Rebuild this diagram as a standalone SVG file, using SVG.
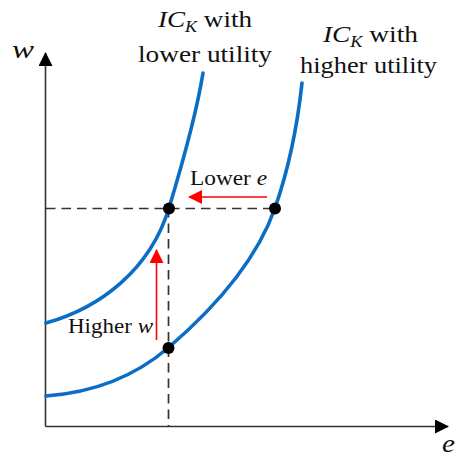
<svg xmlns="http://www.w3.org/2000/svg" width="457" height="457" viewBox="0 0 457 457">
<style>
text{font-family:"Liberation Serif","Times New Roman",serif;fill:#111}
.it{font-style:italic}
.title{font-size:24px}
.small{font-size:20px}
.axis{stroke:#333;stroke-width:1.6;fill:none}
.dash{stroke:#333;stroke-width:1.7;stroke-dasharray:9.5 6;fill:none}
.curve{stroke:#0A6EC4;stroke-width:3.6;fill:none;stroke-linecap:round}
.red{stroke:#FF0000;stroke-width:1.6;fill:none}
.dot{fill:#000}
</style>
<defs>
<marker id="ah" viewBox="0 0 14 14" refX="13" refY="7" markerWidth="14" markerHeight="14" markerUnits="userSpaceOnUse" orient="auto"><path d="M0,0 L14,7 L0,14 Z" fill="#000"/></marker>
<marker id="rh" viewBox="0 0 14 14" refX="13" refY="7" markerWidth="14" markerHeight="14" markerUnits="userSpaceOnUse" orient="auto"><path d="M0,0 L14,7 L0,14 Z" fill="#FF0000"/></marker>
</defs>
<g id="axes">
<line class="axis" x1="45.5" y1="426.5" x2="45.5" y2="53" marker-end="url(#ah)"/>
<line class="axis" x1="45.5" y1="426.5" x2="448" y2="426.5" marker-end="url(#ah)"/>
<text class="it" x="12" y="58" font-size="26" textLength="22" lengthAdjust="spacingAndGlyphs">w</text>
<text class="it" x="442" y="452" font-size="26" textLength="13" lengthAdjust="spacingAndGlyphs">e</text>
</g>
<g id="connectors">
<line class="dash" x1="46" y1="208.5" x2="275" y2="208.5"/>
<line class="dash" x1="168.5" y1="208" x2="168.5" y2="426"/>
<line class="red" x1="267" y1="197" x2="189" y2="197" marker-end="url(#rh)"/>
<line class="red" x1="156.5" y1="340" x2="156.5" y2="250" marker-end="url(#rh)"/>
</g>
<g id="curve-lower">
<path class="curve" d="M46,323 C100,308 150,270 169,208 C185,155 197,110 203,73"/>
</g>
<g id="curve-higher">
<path class="curve" d="M46,396 C100,392 140,372 168,348 C210,312 255,265 275,208 C290,165 298,120 302,83"/>
</g>
<g id="points">
<circle class="dot" cx="169" cy="208.5" r="6"/>
<circle class="dot" cx="275" cy="208.5" r="6"/>
<circle class="dot" cx="168.5" cy="348" r="6"/>
</g>
<g id="label-lower">
<text class="title" x="158" y="27" textLength="94" lengthAdjust="spacingAndGlyphs"><tspan class="it">IC</tspan><tspan class="it" font-size="16" dy="5">K</tspan><tspan dy="-5"> with</tspan></text>
<text class="title" x="138" y="62" textLength="134" lengthAdjust="spacingAndGlyphs">lower utility</text>
</g>
<g id="label-higher">
<text class="title" x="323" y="42" textLength="95" lengthAdjust="spacingAndGlyphs"><tspan class="it">IC</tspan><tspan class="it" font-size="16" dy="5">K</tspan><tspan dy="-5"> with</tspan></text>
<text class="title" x="300" y="73" textLength="137" lengthAdjust="spacingAndGlyphs">higher utility</text>
</g>
<g id="label-lower-e">
<text class="small" x="190" y="185" textLength="77" lengthAdjust="spacingAndGlyphs">Lower <tspan class="it">e</tspan></text>
</g>
<g id="label-higher-w">
<text class="small" x="68" y="333" textLength="85" lengthAdjust="spacingAndGlyphs">Higher <tspan class="it">w</tspan></text>
</g>
</svg>
